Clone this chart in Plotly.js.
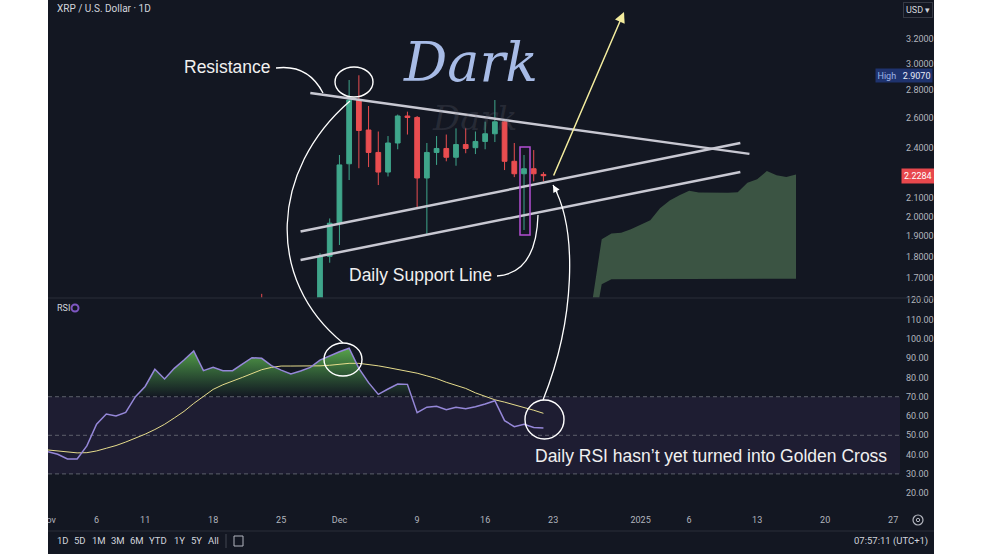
<!DOCTYPE html>
<html><head><meta charset="utf-8">
<script src="https://cdn.plot.ly/plotly-3.0.1.min.js"></script>
<style>
html,body{margin:0;padding:0;background:#ffffff;width:984px;height:554px;overflow:hidden}
#chart{position:absolute;left:48px;top:0;width:886px;height:554px}
</style></head><body><div id="chart"></div>
<script>
// ---------- DATA ----------
const candleDates = ['2024-11-23','2024-11-29','2024-11-30','2024-12-01','2024-12-02','2024-12-03','2024-12-04','2024-12-05','2024-12-06','2024-12-07','2024-12-08','2024-12-09','2024-12-10','2024-12-11','2024-12-12','2024-12-13','2024-12-14','2024-12-15','2024-12-16','2024-12-17','2024-12-18','2024-12-19','2024-12-20','2024-12-21','2024-12-22'];
const openP  = [1.50,1.60,1.80,1.965,2.30,2.723,2.515,2.37,2.25,2.43,2.61,2.60,2.215,2.37,2.395,2.34,2.42,2.40,2.44,2.49,2.57,2.315,2.24,2.27,2.236];
const highP  = [1.63,1.815,1.99,2.354,2.871,2.907,2.68,2.505,2.475,2.62,2.64,2.61,2.43,2.475,2.485,2.526,2.526,2.505,2.571,2.723,2.575,2.43,2.354,2.385,2.25];
const lowP   = [1.42,1.56,1.77,1.855,2.203,2.273,2.28,2.174,2.224,2.39,2.485,2.04,1.91,2.293,2.315,2.288,2.365,2.36,2.39,2.436,2.262,2.22,1.93,2.195,2.195];
const closeP = [1.46,1.80,1.965,2.293,2.723,2.512,2.37,2.25,2.43,2.61,2.60,2.215,2.37,2.395,2.34,2.42,2.395,2.44,2.49,2.57,2.315,2.24,2.27,2.24,2.2284];

const rsiDates = ['2024-11-01','2024-11-02','2024-11-03','2024-11-04','2024-11-05','2024-11-06','2024-11-07','2024-11-08','2024-11-09','2024-11-10','2024-11-11','2024-11-12','2024-11-13','2024-11-14','2024-11-15','2024-11-16','2024-11-17','2024-11-18','2024-11-19','2024-11-20','2024-11-21','2024-11-22','2024-11-23','2024-11-24','2024-11-25','2024-11-26','2024-11-27','2024-11-28','2024-11-29','2024-11-30','2024-12-01','2024-12-02','2024-12-03','2024-12-04','2024-12-05','2024-12-06','2024-12-07','2024-12-08','2024-12-09','2024-12-10','2024-12-11','2024-12-12','2024-12-13','2024-12-14','2024-12-15','2024-12-16','2024-12-17','2024-12-18','2024-12-19','2024-12-20','2024-12-21','2024-12-22'];
const rsiValues = [41.5,40.2,37.7,37.7,44.5,55.8,61.0,60.0,61.9,70.0,75.3,84.2,79.2,84.7,89.0,93.7,83.5,85.2,83.5,83.5,86.9,90.2,89.9,86.1,83.8,81.8,83.3,85.2,89.0,91.2,93.3,95.1,84.7,77.3,71.2,74.0,76.6,76.4,61.7,64.6,65.0,63.3,64.5,63.8,64.8,66.2,67.9,57.6,54.5,55.7,54.1,53.8];
const rsiMA = [42.4,41.9,41.4,40.9,41.0,41.9,43.3,44.7,46.5,48.5,50.6,53.0,55.7,59.0,62.4,66.5,70.2,73.8,76.2,78.3,80.0,82.0,84.0,85.2,85.9,85.9,85.9,85.9,86.0,86.3,86.8,87.3,87.3,86.8,86.0,85.1,84.2,83.3,82.2,80.8,79.4,77.5,76.0,74.3,72.0,70.0,68.4,67.2,65.9,64.6,63.0,61.4];

const cloudDates = ['2024-12-27','2024-12-28','2024-12-29','2024-12-30','2024-12-31','2025-01-01','2025-01-02','2025-01-03','2025-01-04','2025-01-05','2025-01-06','2025-01-07','2025-01-08','2025-01-09','2025-01-10','2025-01-11','2025-01-12','2025-01-13','2025-01-14','2025-01-15','2025-01-16','2025-01-17'];
const cloudTop    = [1.59,1.884,1.912,1.916,1.934,1.957,1.980,2.045,2.087,2.116,2.141,2.131,2.130,2.130,2.130,2.133,2.187,2.207,2.257,2.231,2.221,2.235];
const cloudBottom = [1.45,1.672,1.694,1.694,1.694,1.695,1.695,1.695,1.695,1.695,1.695,1.696,1.696,1.696,1.696,1.696,1.696,1.697,1.697,1.697,1.697,1.697];

const resistanceDates = ['2024-11-28','2025-01-12 05:00'];
const resistancePrices = [2.774, 2.361];
const supportUpperDates = ['2024-11-27','2025-01-11 06:30'];
const supportUpperPrices = [1.922, 2.430];
const supportLowerDates = ['2024-11-27','2025-01-11 06:30'];
const supportLowerPrices = [1.783, 2.250];

const priceTicks = [1.7,1.8,1.9,2.0,2.1,2.4,2.6,2.8,3.0,3.2];
const rsiTicks = [20,30,40,50,60,70,80,90,100,110,120];
const dateTickVals = ['2024-11-01','2024-11-06','2024-11-11','2024-11-18','2024-11-25','2024-12-01','2024-12-09','2024-12-16','2024-12-23','2025-01-01','2025-01-06','2025-01-13','2025-01-20','2025-01-27'];
const dateTickText = ['Nov','6','11','18','25','Dec','9','16','23','2025','6','13','20','27'];
const rangeButtons = ['1D','5D','1M','3M','6M','YTD','1Y','5Y','All'];

// ---------- STYLE ----------
const BG = '#131722', UP = '#3fa68b', DOWN = '#e94d50', LINE = '#c8c8d2';
const AX = '#b2b5be';
const px = x => (x - 48) / 850;      // image px -> paper x
const py = y => (508 - y) / 508;     // image px -> paper y

// overbought fill (RSI clipped at 70)
const fx = [], fy = [];
for (let i = 0; i < rsiDates.length; i++) {
  const t = Date.parse(rsiDates[i]), v = rsiValues[i];
  if (i > 0) {
    const pv = rsiValues[i-1], pt = Date.parse(rsiDates[i-1]);
    if ((pv - 70) * (v - 70) < 0) { const f = (70 - pv) / (v - pv); fx.push(pt + f * (t - pt)); fy.push(70); }
  }
  fx.push(t); fy.push(Math.max(v, 70));
}
fx.push(Date.parse(rsiDates[rsiDates.length-1])); fy.push(70);
fx.push(Date.parse(rsiDates[0])); fy.push(70);

const traces = [
  {type:'scatter', mode:'lines', x:cloudDates, y:cloudBottom, yaxis:'y', line:{width:0, color:'#3b5443'}, hoverinfo:'skip'},
  {type:'scatter', mode:'lines', x:cloudDates, y:cloudTop, yaxis:'y', fill:'tonexty', fillcolor:'#3b5443', line:{width:0, color:'#3b5443'}, hoverinfo:'skip'},
  {type:'candlestick', x:candleDates, open:openP, high:highP, low:lowP, close:closeP, yaxis:'y',
   increasing:{line:{color:UP, width:1}, fillcolor:UP}, decreasing:{line:{color:DOWN, width:1}, fillcolor:DOWN},
   whiskerwidth:0, hoverinfo:'skip'},
  {type:'scatter', mode:'lines', x:resistanceDates, y:resistancePrices, yaxis:'y', line:{color:LINE, width:2.5}, hoverinfo:'skip'},
  {type:'scatter', mode:'lines', x:supportUpperDates, y:supportUpperPrices, yaxis:'y', line:{color:LINE, width:2.5}, hoverinfo:'skip'},
  {type:'scatter', mode:'lines', x:supportLowerDates, y:supportLowerPrices, yaxis:'y', line:{color:LINE, width:2.5}, hoverinfo:'skip'},
  {type:'scatter', mode:'lines', x:fx, y:fy, yaxis:'y2', fill:'toself', line:{width:0},
   fillgradient:{type:'vertical', start:70, stop:96, colorscale:[[0,'rgba(76,175,80,0)'],[1,'rgba(100,185,80,0.9)']]}, hoverinfo:'skip'},
  {type:'scatter', mode:'lines', x:rsiDates, y:rsiMA, yaxis:'y2', line:{color:'#e6dc8c', width:1}, hoverinfo:'skip'},
  {type:'scatter', mode:'lines', x:rsiDates, y:rsiValues, yaxis:'y2', line:{color:'#9587d8', width:1.5}, hoverinfo:'skip'}
];

const shapes = [
  {type:'rect', xref:'paper', yref:'y2', x0:0, x1:px(900), y0:30, y1:70, fillcolor:'rgba(126,87,194,0.10)', line:{width:0}, layer:'below'},
  ...[70,50,30].map(v => ({type:'line', xref:'paper', yref:'y2', x0:0, x1:px(900), y0:v, y1:v, line:{color:'#5d606b', width:1, dash:'4px,3px'}, layer:'below'})),
  {type:'line', xref:'paper', yref:'paper', x0:0, x1:px(934), y0:py(298), y1:py(298), line:{color:'#2a2e39', width:1}},
  {type:'line', xref:'paper', yref:'paper', x0:0, x1:px(934), y0:py(531), y1:py(531), line:{color:'#2a2e39', width:1}},
  // decorations
  {type:'circle', xref:'paper', yref:'paper', x0:px(335), x1:px(373), y0:py(97), y1:py(67), line:{color:'#ffffff', width:1.4}},
  {type:'circle', xref:'paper', yref:'paper', x0:px(324), x1:px(362), y0:py(376), y1:py(343), line:{color:'#ffffff', width:1.4}},
  {type:'circle', xref:'paper', yref:'paper', x0:px(525), x1:px(564), y0:py(439), y1:py(400), line:{color:'#ffffff', width:1.4}},
  {type:'rect', xref:'paper', yref:'paper', x0:px(520), x1:px(530), y0:py(235), y1:py(147), line:{color:'#b44fd3', width:1.5}},
  {type:'path', xref:'paper', yref:'paper', path:`M ${px(276)},${py(68)} Q ${px(308)},${py(64)} ${px(323)},${py(93)}`, line:{color:'#ffffff', width:1.3}},
  {type:'path', xref:'paper', yref:'paper', path:`M ${px(350)},${py(101)} C ${px(270)},${py(170)} ${px(265)},${py(280)} ${px(343)},${py(343)}`, line:{color:'#ffffff', width:1.3}},
  {type:'path', xref:'paper', yref:'paper', path:`M ${px(497)},${py(276)} C ${px(525)},${py(274)} ${px(537)},${py(250)} ${px(538)},${py(215)}`, line:{color:'#ffffff', width:1.3}},
  {type:'path', xref:'paper', yref:'paper', path:`M ${px(543)},${py(400)} C ${px(575)},${py(320)} ${px(578)},${py(230)} ${px(553)},${py(185)}`, line:{color:'#ffffff', width:1.3}},
  // RSI legend ring
  {type:'circle', xref:'paper', yref:'paper', x0:px(71.5), x1:px(78.5), y0:py(311.5), y1:py(304.5), line:{color:'#7e57c2', width:2}},
  // toolbar separator, calendar icon, gear
  {type:'line', xref:'paper', yref:'paper', x0:px(226), x1:px(226), y0:py(534), y1:py(548), line:{color:'#434651', width:1}},
  {type:'rect', xref:'paper', yref:'paper', x0:px(234), x1:px(243), y0:py(546), y1:py(536), line:{color:AX, width:1}},
  {type:'circle', xref:'paper', yref:'paper', x0:px(913), x1:px(923), y0:py(525), y1:py(515), line:{color:AX, width:1.2}},
  {type:'circle', xref:'paper', yref:'paper', x0:px(916.3), x1:px(919.7), y0:py(521.7), y1:py(518.3), line:{color:AX, width:1}}
];

const lastClose = closeP[closeP.length-1];
const maxHigh = Math.max(...highP);
const txt = (x, y, text, opts={}) => Object.assign({xref:'paper', yref:'paper', x:px(x), y:py(y), text, showarrow:false, xanchor:'left', yanchor:'middle',
  font:{family:'Liberation Sans, Arial, sans-serif', size:17.5, color:'#f0f0f0'}}, opts);

const annotations = [
  txt(55, 9, 'XRP / U.S. Dollar · 1D', {font:{family:'Roboto, sans-serif', size:10, color:'#d1d4dc'}}),
  txt(918, 10, 'USD ▾', {xanchor:'center', font:{family:'Roboto, sans-serif', size:9, color:'#d1d4dc'}, bordercolor:'#363a45', borderwidth:1, borderpad:2, bgcolor:BG}),
  {xref:'paper', yref:'y', x:px(933), y:Math.log10(maxHigh), xanchor:'right', yanchor:'middle', showarrow:false,
   text:'<span style="color:#9fb3e8">High</span>   ' + maxHigh.toFixed(4), bgcolor:'#1f336e', borderpad:1.5,
   font:{family:'Roboto, sans-serif', size:9, color:'#e8ecf7'}},
  {xref:'paper', yref:'y', x:px(901), y:Math.log10(lastClose), xanchor:'left', yanchor:'middle', showarrow:false,
   text:lastClose.toFixed(4), bgcolor:'#e8484d', borderpad:2, font:{family:'Roboto, sans-serif', size:9, color:'#ffffff'}},
  txt(470, 62, 'Dark', {xanchor:'center', font:{family:'DejaVu Serif, serif', size:54, color:'#a7bbe6', style:'italic'}}),
  txt(474, 118, 'Dark', {xanchor:'center', font:{family:'DejaVu Serif, serif', size:34, color:'rgba(110,112,125,0.22)', style:'italic'}}),
  txt(227, 67, 'Resistance', {xanchor:'center'}),
  txt(420, 275, 'Daily Support Line', {xanchor:'center'}),
  txt(711, 456, 'Daily RSI hasn’t yet turned into Golden Cross', {xanchor:'center'}),
  txt(55, 308, 'RSI', {font:{family:'Roboto, sans-serif', size:9, color:'#d1d4dc'}}),
  {xref:'paper', yref:'paper', x:px(624), y:py(12), ax:553-624, ay:177-12, axref:'pixel', ayref:'pixel', text:'', showarrow:true,
   arrowhead:2, arrowsize:1.4, arrowwidth:1.5, arrowcolor:'#f3ec9e'},
  {xref:'paper', yref:'paper', x:px(553), y:py(185), ax:5, ay:9, text:'', showarrow:true, arrowhead:2, arrowsize:1.1, arrowwidth:1.3, arrowcolor:'#ffffff'},
  ...rangeButtons.map((b, i) => txt([63,80,99,118,137,158,179,196,213][i], 541, b, {xanchor:'center', font:{family:'Roboto, sans-serif', size:9.5, color:'#d1d4dc'}})),
  txt(930, 541, '07:57:11 (UTC+1)', {xanchor:'right', font:{family:'Roboto, sans-serif', size:9.5, color:'#d1d4dc'}})
];

const layout = {
  width:886, height:554, margin:{l:0, r:36, t:0, b:46},
  paper_bgcolor:BG, plot_bgcolor:BG, showlegend:false,
  font:{family:'Roboto, sans-serif', size:9, color:AX},
  xaxis:{type:'date', range:['2024-11-01','2025-01-27 12:00'], anchor:'y2', showgrid:false, zeroline:false, showline:false,
    tickmode:'array', tickvals:dateTickVals, ticktext:dateTickText, ticks:'', ticklabelstandoff:5, ticklabeloverflow:'allow',
    tickfont:{size:9, color:AX}, rangeslider:{visible:false}, fixedrange:true},
  yaxis:{domain:[0.4144,1], type:'log', range:[0.2080,0.5500], side:'right', anchor:'x', showgrid:false, zeroline:false,
    showline:false, tickmode:'array', tickvals:priceTicks, tickformat:'.4f', ticks:'', ticklabelstandoff:7, tickfont:{size:9, color:AX}},
  yaxis2:{domain:[0,0.4124], range:[12.33,120.9], side:'right', anchor:'x', showgrid:false, zeroline:false, showline:false,
    tickmode:'array', tickvals:rsiTicks, tickformat:'.2f', ticks:'', ticklabelstandoff:7, tickfont:{size:9, color:AX}},
  shapes, annotations
};

Plotly.newPlot('chart', traces, layout, {staticPlot:true, displayModeBar:false});
</script></body></html>
